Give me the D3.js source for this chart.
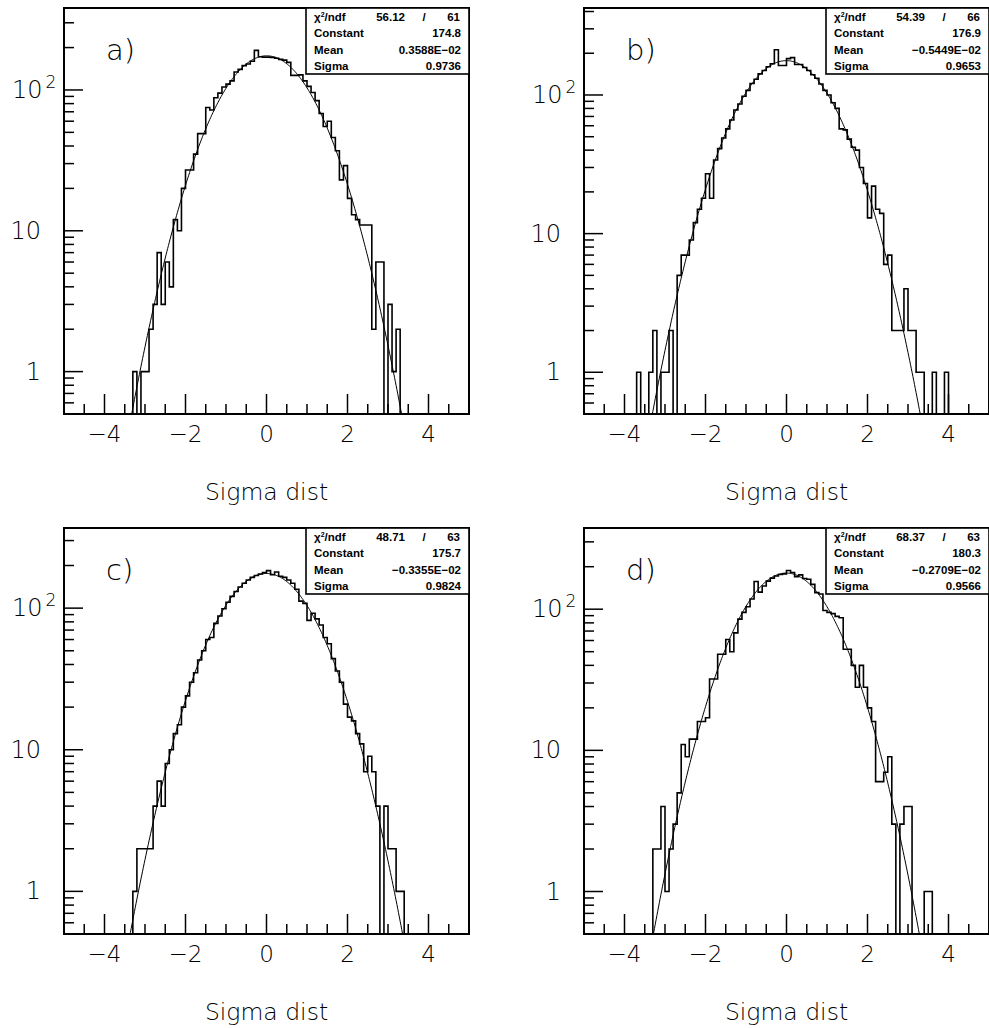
<!DOCTYPE html>
<html><head><meta charset="utf-8">
<script src="https://cdn.jsdelivr.net/npm/d3@7"></script>
<style>body{margin:0;background:#fff}svg{display:block}</style>
</head><body>
<svg id="chart" width="989" height="1028"></svg>
<script>
// ---- data (bins of width 0.1, first bin starts at -4.0) ----
const binStart = -4.0;
const binWidth = 0.1;
const countsA = [0,0,0,0,0,0,0,1,0,1, 1,2,3,7,3,6,4,12,10,20, 27,27,35,49,49,75,72,88,95,105, 110,116,134,140,149,153,160,191,172,171,
  171,170,168,165,163,157,127,127,128,116, 106,96,84,68,55,60,46,37,23,29, 17,13,12,11,11,11,2,6,6,0, 3,1,2,0,0,0,0,0,0,0];
const countsB = [0,0,0,1,0,0,1,2,0,1, 1,2,0,5,7,7,9,12,15,18, 27,18,34,41,49,57,66,78,86,98, 108,121,130,142,150,160,168,212,163,163,
  183,186,166,166,158,150,140,132,120,108, 100,88,80,57,56,48,42,40,30,23, 13,22,15,14,6,7,2,2,2,4, 2,2,1,1,0,0,1,0,0,1];
const countsC = [0,0,0,0,0,0,0,1,2,2, 2,2,4,6,4,8,10,13,15,20, 24,30,35,43,50,60,62,78,88,99, 110,121,131,141,150,158,165,170,174,178,
  184,172,180,168,165,158,150,136,112,108, 82,92,84,76,62,56,44,36,30,21, 17,16,13,11,7,9,7,4,0,4, 2,2,1,1,0,0,0,0,0,0];
const countsD = [0,0,0,0,0,0,0,2,2,4, 1,2,3,5,11,9,12,12,16,16, 17,32,32,48,48,61,50,68,85,95, 104,118,157,132,146,158,166,172,176,178,
  188,182,170,175,165,163,150,131,128,98, 95,93,89,87,52,52,40,28,40,28, 20,16,6,6,7,9,3,0,3,4, 4,0,0,0,1,1,0,0,0,0];

const panelLabels = ["a)", "b)", "c)", "d)"];
const chi2Labels = ["56.12", "54.39", "48.71", "68.37"];
const ndfLabels = ["61", "66", "63", "63"];
const constantValues = [174.8, 176.9, 175.7, 180.3];
const constantLabels = ["174.8", "176.9", "175.7", "180.3"];
const meanValues = [0.003588, -0.005449, -0.003355, -0.002709];
const meanLabels = ["0.3588E\u221202", "\u22120.5449E\u221202", "\u22120.3355E\u221202", "\u22120.2709E\u221202"];
const sigmaValues = [0.9736, 0.9653, 0.9824, 0.9566];
const sigmaLabels = ["0.9736", "0.9653", "0.9824", "0.9566"];
const xMajorTicks = [-4, -2, 0, 2, 4];
const xTickLabels = ["\u22124", "\u22122", "0", "2", "4"];
const yMajorTicks = [1, 10, 100];
const xTitle = "Sigma dist";

// ---- layout ----
const frameW = 405, frameH = 406;
const lefts = [64, 584, 64, 584];
const tops = [8, 8, 528, 528];
const countsList = [countsA, countsB, countsC, countsD];

const svg = d3.select("#chart");
const lightFont = "'DejaVu Sans', sans-serif";
const statFont = "'Liberation Sans', Arial, sans-serif";

countsList.forEach((counts, k) => {
  const L = lefts[k], T = tops[k], R = L + frameW, B = T + frameH;
  const x = d3.scaleLinear().domain([-5, 5]).range([L, R]);
  const yMin = 0.5, yMax = 2 * d3.max(counts);
  const y = d3.scaleLog().domain([yMin, yMax]).range([B, T]);
  const g = svg.append("g");

  const clipId = "clip" + k;
  svg.append("clipPath").attr("id", clipId).append("rect")
    .attr("x", L).attr("y", T).attr("width", frameW).attr("height", frameH);

  // y ticks
  const minorY = [];
  [0.1, 1, 10, 100].forEach(d => { for (let m = 2; m <= 9; m++) { const v = m * d; if (v > yMin && v < yMax) minorY.push(v); } });
  g.selectAll(".ymin").data(minorY).join("line")
    .attr("x1", L).attr("x2", L + 10).attr("y1", d => y(d)).attr("y2", d => y(d))
    .attr("stroke", "#000").attr("stroke-width", 1.5);
  g.selectAll(".ymaj").data(yMajorTicks).join("line")
    .attr("x1", L).attr("x2", L + 19).attr("y1", d => y(d)).attr("y2", d => y(d))
    .attr("stroke", "#000").attr("stroke-width", 1.5);

  // x ticks
  const minorX = d3.range(-9, 10).map(i => i * 0.5).filter(v => Math.abs(v % 2) > 1e-9);
  g.selectAll(".xmin").data(minorX).join("line")
    .attr("x1", d => x(d)).attr("x2", d => x(d)).attr("y1", B).attr("y2", B - 10)
    .attr("stroke", "#000").attr("stroke-width", 1.5);
  g.selectAll(".xmaj").data(xMajorTicks).join("line")
    .attr("x1", d => x(d)).attr("x2", d => x(d)).attr("y1", B).attr("y2", B - 20)
    .attr("stroke", "#000").attr("stroke-width", 1.5);

  // x tick labels
  g.selectAll(".xl").data(xMajorTicks).join("text")
    .attr("x", d => x(d)).attr("y", B + 28)
    .attr("text-anchor", "middle").attr("font-family", lightFont).attr("font-weight", 200)
    .attr("font-size", 23).text((d, i) => xTickLabels[i]);

  // y tick labels
  yMajorTicks.forEach(v => {
    const t = g.append("text").attr("x", L - 23).attr("y", y(v) + 8)
      .attr("text-anchor", "end").attr("font-family", lightFont).attr("font-weight", 200)
      .attr("font-size", 24);
    if (v === 100) {
      t.attr("text-anchor", "start").attr("x", L - 52);
      t.append("tspan").text("10");
      t.append("tspan").attr("dx", 3).attr("dy", -10).attr("font-size", 17).text("2");
    } else {
      t.text(String(v));
    }
  });

  // x title
  g.append("text").attr("x", x(0)).attr("y", B + 86).attr("text-anchor", "middle")
    .attr("font-family", lightFont).attr("font-weight", 200).attr("font-size", 23.5).text(xTitle);

  // fit curve (gaussian with the fitted parameters shown in the stats box)
  const C = constantValues[k], mu = meanValues[k], s = sigmaValues[k];
  const fx = d3.range(-5, 5.0001, 0.02);
  const fitLine = d3.line()
    .x(v => x(v))
    .y(v => { const f = C * Math.exp(-0.5 * ((v - mu) / s) ** 2); return f > 0.05 ? y(f) : B + 200; });
  g.append("path").attr("d", fitLine(fx)).attr("fill", "none").attr("stroke", "#000")
    .attr("stroke-width", 1).attr("clip-path", `url(#${clipId})`);

  // histogram
  const pts = [{e: binStart, v: 0}];
  counts.forEach((c, i) => pts.push({e: binStart + i * binWidth, v: c}));
  pts.push({e: binStart + counts.length * binWidth, v: 0});
  const histLine = d3.line().curve(d3.curveStepAfter)
    .x(d => x(d.e)).y(d => d.v > 0 ? y(d.v) : B);
  g.append("path").attr("d", histLine(pts)).attr("fill", "none").attr("stroke", "#000")
    .attr("stroke-width", 1.6).attr("clip-path", `url(#${clipId})`);

  // frame
  g.append("rect").attr("x", L).attr("y", T).attr("width", frameW).attr("height", frameH)
    .attr("fill", "none").attr("stroke", "#000").attr("stroke-width", 2);

  // panel label
  g.append("text").attr("x", L + 42).attr("y", T + 52)
    .attr("font-family", lightFont).attr("font-weight", 200).attr("font-size", 29).text(panelLabels[k]);

  // stats box
  const bx = R - 163, by = T, bw = 163, bh = 66;
  g.append("rect").attr("x", bx).attr("y", by).attr("width", bw).attr("height", bh)
    .attr("fill", "#fff").attr("stroke", "#000").attr("stroke-width", 1.6);
  const st = (xx, yy, anchor) => g.append("text").attr("x", xx).attr("y", yy).attr("text-anchor", anchor)
    .attr("font-family", statFont).attr("font-weight", "bold").attr("font-size", 11.5);
  const chiT = st(bx + 8, by + 13, "start");
  chiT.append("tspan").text("\u03c7");
  chiT.append("tspan").attr("dy", -4).attr("font-size", 7).text("2");
  chiT.append("tspan").attr("dy", 4).text("/ndf");
  st(bx + 99, by + 13, "end").text(chi2Labels[k]);
  st(bx + 118, by + 13, "middle").text("/");
  st(bx + 154, by + 13, "end").text(ndfLabels[k]);
  st(bx + 8, by + 29, "start").text("Constant");
  st(bx + 155, by + 29, "end").text(constantLabels[k]);
  st(bx + 8, by + 46, "start").text("Mean");
  st(bx + 155, by + 46, "end").text(meanLabels[k]);
  st(bx + 8, by + 62, "start").text("Sigma");
  st(bx + 155, by + 62, "end").text(sigmaLabels[k]);
});
</script>
</body></html>
